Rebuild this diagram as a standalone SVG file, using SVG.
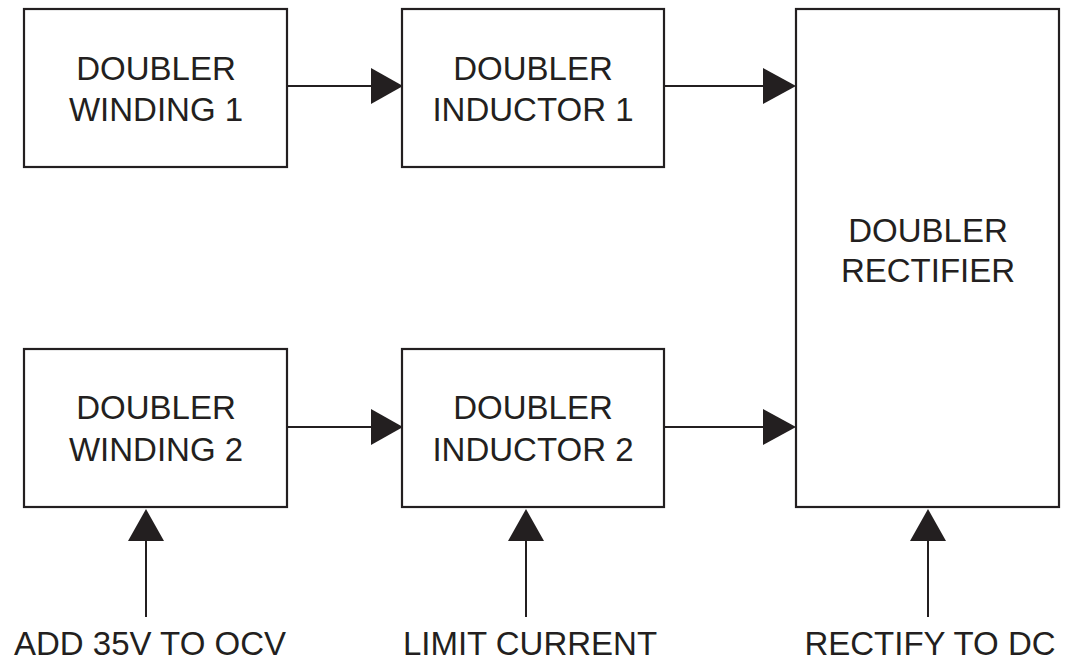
<svg xmlns="http://www.w3.org/2000/svg" width="1065" height="662" viewBox="0 0 1065 662">
<style>
.box{fill:#fff;stroke:#231f20;stroke-width:2.2}
.t{font-family:"Liberation Sans",Arial,sans-serif;font-size:33px;fill:#231f20;text-anchor:middle}
.ln{stroke:#231f20;stroke-width:2;fill:none}
.ah{fill:#231f20}
</style>
<rect width="1065" height="662" fill="#fff"/>
<g id="connectors">
<line class="ln" x1="287" y1="86" x2="372" y2="86"/>
<polygon class="ah" points="403,86 371,68 371,104"/>
<line class="ln" x1="664" y1="86" x2="764" y2="86"/>
<polygon class="ah" points="796,86 763,68 763,104"/>
<line class="ln" x1="287" y1="427" x2="372" y2="427"/>
<polygon class="ah" points="403,427 371,409 371,445"/>
<line class="ln" x1="664" y1="427" x2="764" y2="427"/>
<polygon class="ah" points="796,427 763,409 763,445"/>
<line class="ln" x1="146" y1="540" x2="146" y2="617"/>
<polygon class="ah" points="146,509 128,541 164,541"/>
<line class="ln" x1="526" y1="540" x2="526" y2="617"/>
<polygon class="ah" points="526,509 508,541 544,541"/>
<line class="ln" x1="928" y1="540" x2="928" y2="617"/>
<polygon class="ah" points="928,509 910,541 946,541"/>
</g>
<g id="winding1">
<rect class="box" x="24" y="9" width="263" height="158"/>
<text class="t" x="156" y="80">DOUBLER</text>
<text class="t" x="156" y="121">WINDING 1</text>
</g>
<g id="inductor1">
<rect class="box" x="402" y="9" width="262" height="158"/>
<text class="t" x="533" y="80">DOUBLER</text>
<text class="t" x="533" y="121">INDUCTOR 1</text>
</g>
<g id="rectifier">
<rect class="box" x="796" y="9" width="263" height="498"/>
<text class="t" x="928" y="242">DOUBLER</text>
<text class="t" x="928" y="282">RECTIFIER</text>
</g>
<g id="winding2">
<rect class="box" x="24" y="349" width="263" height="158"/>
<text class="t" x="156" y="419">DOUBLER</text>
<text class="t" x="156" y="461">WINDING 2</text>
</g>
<g id="inductor2">
<rect class="box" x="402" y="349" width="262" height="158"/>
<text class="t" x="533" y="419">DOUBLER</text>
<text class="t" x="533" y="461">INDUCTOR 2</text>
</g>
<g id="labels">
<text class="t" x="150" y="655">ADD 35V TO OCV</text>
<text class="t" x="530" y="655">LIMIT CURRENT</text>
<text class="t" x="930" y="655">RECTIFY TO DC</text>
</g>
</svg>
